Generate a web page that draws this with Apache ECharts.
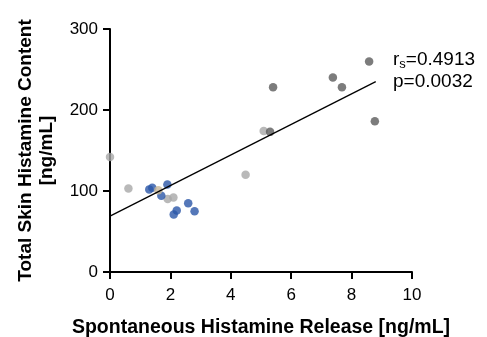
<!DOCTYPE html>
<html>
<head>
<meta charset="utf-8">
<script src="https://cdn.jsdelivr.net/npm/echarts@6/dist/echarts.min.js"></script>
<style>
  html, body {margin: 0; padding: 0; background: #fff;}
  #chart {width: 487px; height: 337px;}
</style>
</head>
<body>
<div id="chart"></div>
<script>
// points: [release, content]
const darkPoints = [[8.58, 260], [7.38, 240], [7.68, 228], [5.40, 228], [8.77, 186], [5.30, 173]];
const lightPoints = [[0, 142], [0.61, 103], [1.91, 90], [2.10, 92], [5.09, 174], [4.49, 120]];
const bluePoints = [[1.30, 102], [1.40, 104], [1.90, 108], [1.70, 94], [2.59, 85], [2.80, 75], [2.21, 76], [2.11, 71]];
const tanPoints = [[1.60, 101]];
const fitLine = [[0, 69], [8.8, 235]];
const statsText = ['0.4913', '0.0032'];

const font = 'Liberation Sans, Arial, sans-serif';
const myChart = echarts.init(document.getElementById('chart'));

const dots = (data, color) => ({
  type: 'scatter',
  data: data,
  symbol: 'circle',
  symbolSize: 8.5,
  itemStyle: {color: color},
  z: 3,
});

myChart.setOption({
  animation: false,
  grid: {left: 110, right: 75, top: 29, bottom: 65, containLabel: false, outerBoundsMode: 'none'},
  xAxis: {
    type: 'value',
    min: 0, max: 10, interval: 2,
    name: 'Spontaneous Histamine Release [ng/mL]',
    nameLocation: 'middle',
    nameGap: 46,
    nameTextStyle: {fontFamily: font, fontWeight: 'bold', fontSize: 19.5, color: '#000'},
    axisLine: {lineStyle: {color: '#000', width: 2}},
    axisTick: {length: 7, lineStyle: {color: '#000', width: 2}},
    axisLabel: {fontFamily: font, fontSize: 17, color: '#000', margin: 15},
    splitLine: {show: false},
  },
  yAxis: {
    type: 'value',
    min: 0, max: 300, interval: 100,
    name: 'Total Skin Histamine Content\n[ng/mL]',
    nameLocation: 'middle',
    nameRotate: 90,
    nameGap: 53,
    nameTextStyle: {fontFamily: font, fontWeight: 'bold', fontSize: 19, color: '#000', lineHeight: 21},
    axisLine: {lineStyle: {color: '#000', width: 2}},
    axisTick: {length: 7, lineStyle: {color: '#000', width: 2}},
    axisLabel: {fontFamily: font, fontSize: 17, color: '#000', margin: 12},
    splitLine: {show: false},
  },
  graphic: [{
    type: 'text',
    left: 393, top: 50,
    style: {
      text: '{r|r}{s|s}{r|=' + statsText[0] + '}\n{r|p=' + statsText[1] + '}',
      rich: {
        r: {fontFamily: font, fontSize: 19, fill: '#000', lineHeight: 22},
        s: {fontFamily: font, fontSize: 13, fill: '#000', verticalAlign: 'bottom', padding: [8, 0, 0, 0], lineHeight: 22},
      },
    },
  }],
  series: [
    {
      type: 'line',
      data: fitLine,
      symbol: 'none',
      lineStyle: {color: '#000', width: 1.3},
      z: 4,
    },
    dots(lightPoints, '#a8a8a8'),
    dots(darkPoints, '#5b5b5b'),
    dots(bluePoints, '#2a56a8'),
    dots(tanPoints, '#c8b89a'),
  ],
});
</script>
</body>
</html>
